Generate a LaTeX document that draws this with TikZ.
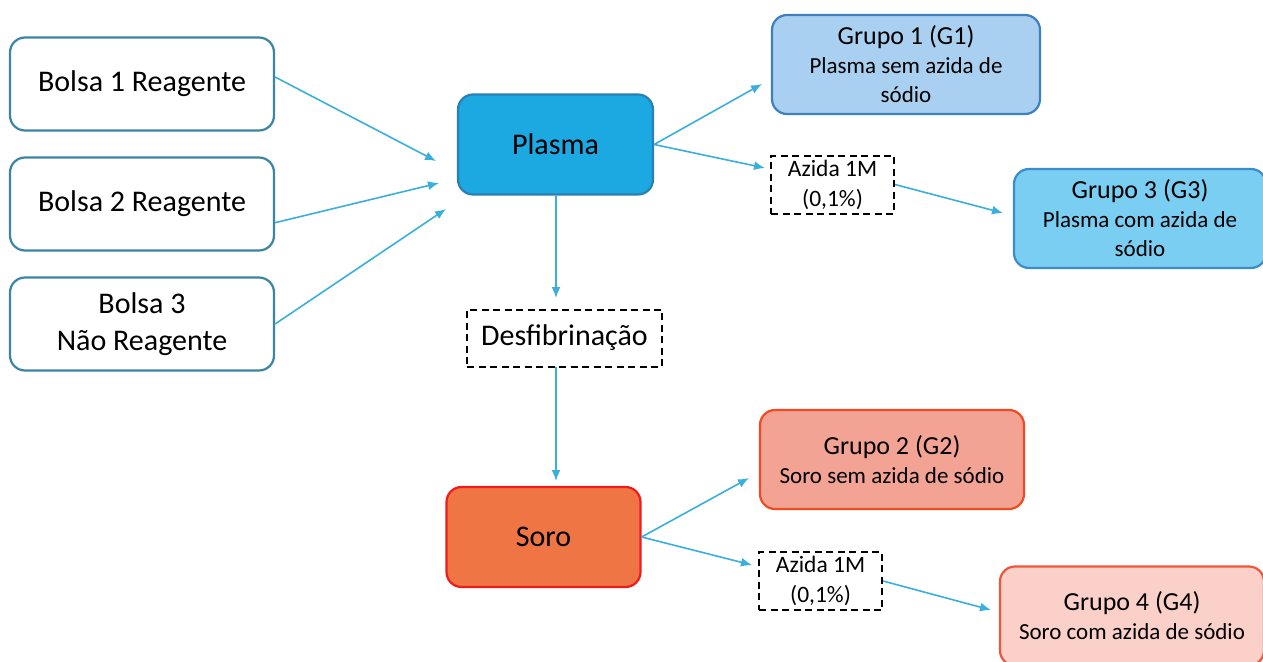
\documentclass[tikz,border=0pt]{standalone}
\usepackage{fontspec}
\setmainfont{Carlito}
\usetikzlibrary{arrows.meta}
\definecolor{arrc}{HTML}{3AAFDD}
\definecolor{bolsab}{HTML}{3A85A6}
\definecolor{plasf}{HTML}{1CA8E0}
\definecolor{plasb}{HTML}{2A80B5}
\definecolor{gonef}{HTML}{A9D0F0}
\definecolor{goneb}{HTML}{3E7FC0}
\definecolor{gthrf}{HTML}{7ACEF1}
\definecolor{gthrb}{HTML}{3A8CCB}
\definecolor{sorof}{HTML}{F07545}
\definecolor{sorob}{HTML}{EE1C1C}
\definecolor{gtwof}{HTML}{F3A393}
\definecolor{gtwob}{HTML}{F24A22}
\definecolor{gfourf}{HTML}{FAD0C8}
\definecolor{gfourb}{HTML}{F0553A}
\tikzset{
  box/.style={rounded corners=15pt, line width=2.2pt, align=center, inner sep=0pt},
  bigtext/.style={font=\fontsize{30}{37}\selectfont},
  bolsa/.style={box, bigtext, draw=bolsab, fill=white, minimum width=264pt, minimum height=93pt},
  grp/.style={box, minimum width=264pt, minimum height=99pt, font=\fontsize{23}{29}\selectfont},
  dbox/.style={draw=black, line width=2pt, dash pattern=on 7pt off 4.5pt, align=center, inner sep=0pt},
  azbox/.style={dbox, minimum width=123pt, minimum height=58pt, font=\fontsize{23.5}{30}\selectfont},
  arr/.style={draw=arrc, line width=1.6pt, -{Latex[length=11pt,width=9pt]}},
}
\newcommand{\gtitle}[1]{{\fontsize{26}{29}\selectfont #1}}
\begin{document}
\begin{tikzpicture}[x=1pt,y=-1pt]
\useasboundingbox (0,0) rectangle (1263,661);
% left bags
\node[bolsa] (b1) at (142,84) {Bolsa 1 Reagente};
\node[bolsa] (b2) at (142,204) {Bolsa 2 Reagente};
\node[bolsa] (b3) at (142,324) {Bolsa 3\\Não Reagente};
% plasma
\node[box, bigtext, draw=plasb, fill=plasf, minimum width=195pt, minimum height=100pt] (plasma) at (555.5,144.5) {Plasma};
\node[dbox, bigtext, minimum width=195pt, minimum height=57pt] (desf) at (564.5,338) {Desfibrinação};
\node[box, bigtext, draw=sorob, fill=sorof, minimum width=194pt, minimum height=100pt] (soro) at (543.5,537) {Soro};
% groups
\node[grp, draw=goneb, fill=gonef, minimum width=268pt] (g1) at (906,64.5) {\gtitle{Grupo 1 (G1)}\\Plasma sem azida de\\sódio};
\node[azbox] (az1) at (832.5,184.5) {Azida 1M\\(0,1\%)};
\node[grp, draw=gthrb, fill=gthrf, minimum width=252pt] (g3) at (1140,218.5) {\gtitle{Grupo 3 (G3)}\\Plasma com azida de\\sódio};
\node[grp, draw=gtwob, fill=gtwof] (g2) at (892,459.5) {\gtitle{Grupo 2 (G2)}\\Soro sem azida de sódio};
\node[azbox] (az2) at (820.5,581) {Azida 1M\\(0,1\%)};
\node[grp, draw=gfourb, fill=gfourf] (g4) at (1132,616) {\gtitle{Grupo 4 (G4)}\\Soro com azida de sódio};
% arrow end points
\coordinate (e1) at (436,161);
\coordinate (e2) at (439,183);
\coordinate (e3) at (446,209);
\coordinate (eg1) at (762,84);
\coordinate (eaz1) at (765,168);
\coordinate (eg3) at (1003,213);
\coordinate (edesf) at (556,298);
\coordinate (sdesf) at (556,367);
\coordinate (esoro) at (556,481);
\coordinate (eg2) at (749,478);
\coordinate (eaz2) at (752,565);
\coordinate (eg4) at (991,610);
% connectors
\draw[arr] (b1.3) -- (e1);
\draw[arr] (b2.-8) -- (e2);
\draw[arr] (b3.east) -- (e3);
\draw[arr] (plasma.east) -- (eg1);
\draw[arr] (plasma.east) -- (eaz1);
\draw[arr] (az1.east) -- (eg3);
\draw[arr] (plasma.south -| edesf) -- (edesf);
\draw[arr] (sdesf) -- (esoro);
\draw[arr] (soro.east) -- (eg2);
\draw[arr] (soro.east) -- (eaz2);
\draw[arr] (az2.east) -- (eg4);
\end{tikzpicture}
\end{document}
